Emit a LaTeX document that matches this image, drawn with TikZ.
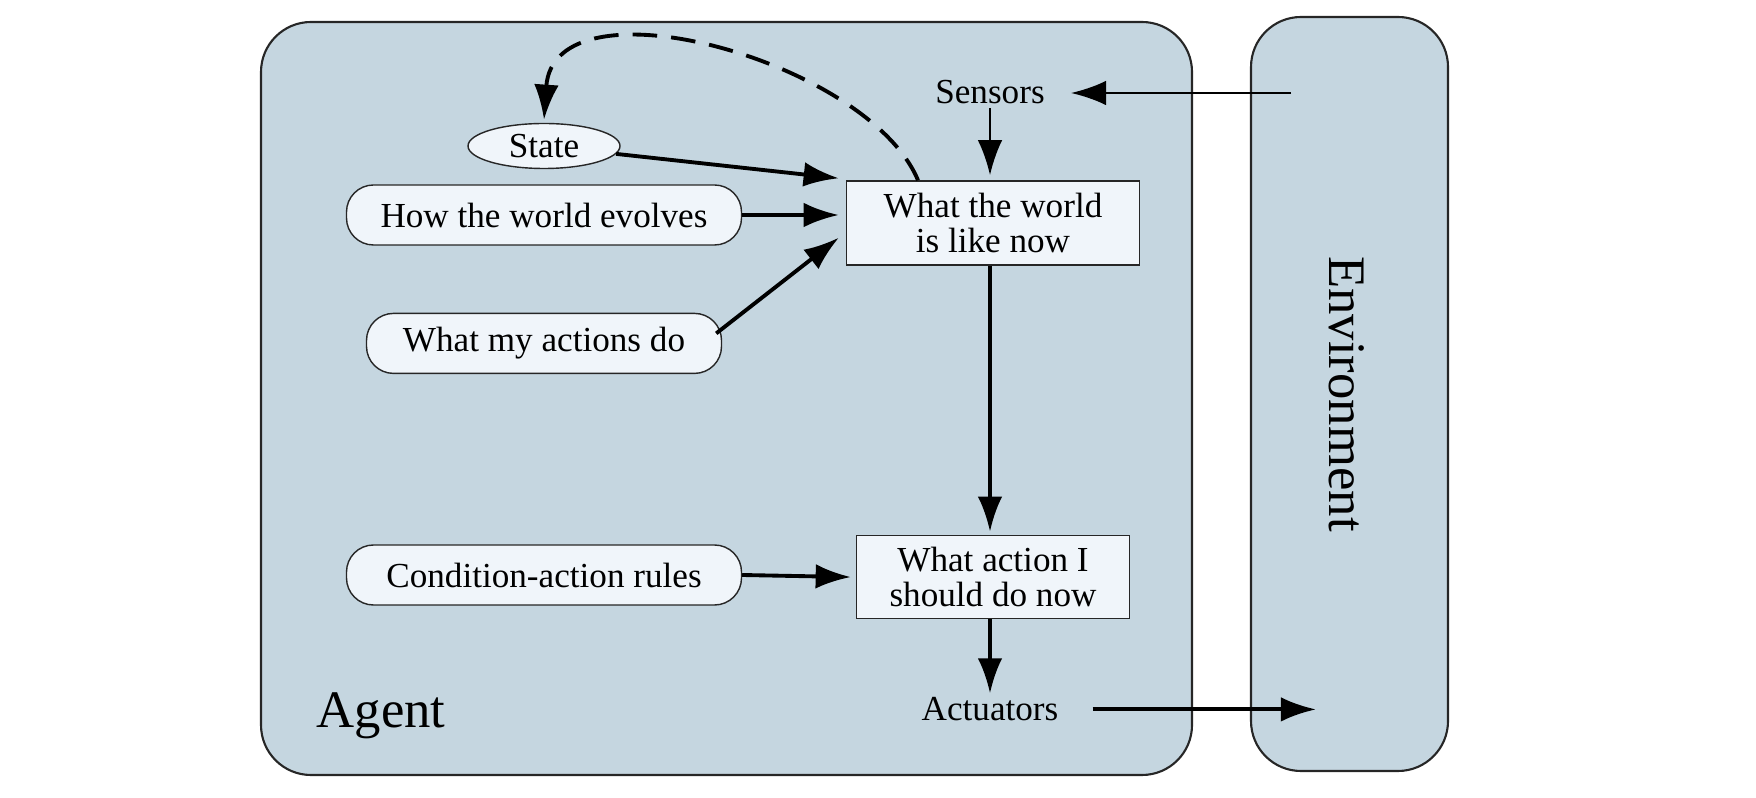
\documentclass[tikz,border=0pt]{standalone}
\usepackage{fontspec}
\setmainfont{Liberation Serif}
\usepackage{tikz}
\usetikzlibrary{shapes,arrows.meta}
\usetikzlibrary{positioning}
\definecolor{agentblue}{RGB}{197,214,224}
\definecolor{nodefill}{RGB}{240,245,250}
\tikzstyle{arrow} = [line width=1.1pt,-{Latex[length=10pt,width=7pt]}]
\tikzstyle{frame} = [draw=black!85, semithick, fill=agentblue, rounded corners=0.5cm]
\tikzstyle{worldbox} = [
    rectangle, minimum height=0.8cm, text centered, align=center,
    draw=black!85, fill=nodefill, font=\fontsize{10}{10}\selectfont]
\tikzstyle{rulebox} = [
    rectangle, rounded corners=0.27cm, minimum height=0.6cm, text centered,
    draw=black!85, fill=nodefill, font=\fontsize{10}{12}\selectfont]
\tikzstyle{statebox} = [
    ellipse, minimum width=1.52cm, minimum height=0.45cm, inner sep=0pt,
    draw=black!85, fill=nodefill, font=\fontsize{10}{12}\selectfont]
\tikzstyle{plain} = [inner sep=1pt, font=\fontsize{10}{12}\selectfont]

\begin{document}
\begin{tikzpicture}
\useasboundingbox (0,0) rectangle (17.56,-7.98);

\draw [frame] (2.61,-0.22) rectangle (11.92,-7.75);
\draw [frame] (12.51,-0.17) rectangle (14.48,-7.71);

\node (agent-label) at (3.81,-7.16) {\fontsize{15}{18}\selectfont Agent};
\node (env-label) [rotate=-90] at (13.47,-3.94) {\fontsize{15}{18}\selectfont Environment};

\node (world-now) [worldbox, minimum width=2.93cm, minimum height=0.84cm] at (9.93,-2.23) {
    What the world \\
    is like now
};

\node (action-now) [worldbox, minimum width=2.73cm, below=2.69cm of world-now] {
    What action I \\
    should do now
};

\node (sensors) [plain, above=0.72cm of world-now, xshift=-0.03cm] {Sensors};
\node (actuators) [plain, below=0.74cm of action-now, xshift=-0.03cm] {Actuators};

\node (state) [statebox] at (5.44,-1.46) {State};
\node (evolves) [rulebox, minimum width=3.95cm] at (5.44,-2.15) {How the world evolves};
\node (my-actions) [rulebox, minimum width=3.55cm, below=0.67cm of evolves] {What my actions do};
\node (rules) [rulebox, minimum width=3.95cm] at (5.44,-5.75) {Condition-action rules};

\coordinate (env-out) at (12.91,-0.93);
\coordinate (env-in) at (13.16,-7.08);

\draw [arrow, thick] (env-out) -- ([xshift=0.22cm]env-out -| sensors.east);
\draw [arrow, thick] (sensors) -- ([yshift=0.05cm]world-now.north -| sensors);
\draw [arrow] (state) -- ([shift={(-0.07cm,0.02cm)}]world-now.north west);
\draw [arrow] (evolves.east) -- ([xshift=-0.07cm]evolves.east -| world-now.west);
\draw [arrow] ([shift={(-0.06cm,0.1cm)}]my-actions.east) -- ([shift={(-0.07cm,0.28cm)}]world-now.south west);
\draw [arrow] (world-now.south -| sensors) -- ([yshift=0.03cm]action-now.north -| sensors);
\draw [arrow] (rules.east) -- ([xshift=-0.05cm]action-now.west);
\draw [arrow] (action-now.south -| actuators) -- (actuators.north);
\draw [arrow] ([xshift=0.3cm]actuators.east) -- (actuators.east -| env-in);
\draw [arrow, dash pattern=on 7pt off 4pt] ([xshift=-0.75cm]world-now.north) .. controls +(-0.5,1.2) and +(0.1,1.45) .. ([yshift=0.03cm]state.north);
\end{tikzpicture}
\end{document}
